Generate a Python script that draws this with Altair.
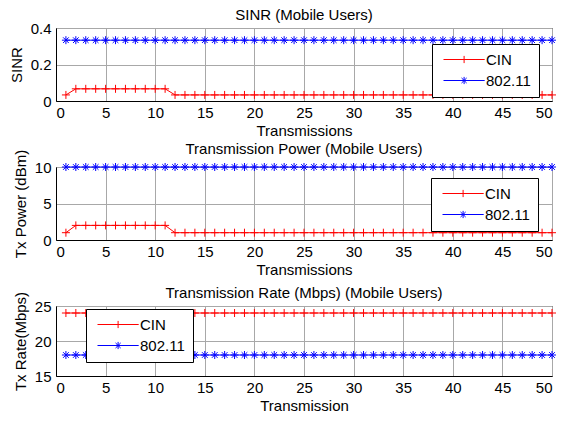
import altair as alt
import pandas as pd

FONT = "Liberation Sans"
FS = 15

transmissions = list(range(1, 51))
series_names = ["CIN", "802.11"]
series_colors = ["#ff0000", "#0000ff"]

sinr_cin = [0.0333, 0.0667, 0.0667, 0.0667, 0.0667, 0.0667, 0.0667, 0.0667, 0.0667, 0.0667,
            0.0667, 0.0333, 0.0333, 0.0333, 0.0333, 0.0333, 0.0333, 0.0333, 0.0333, 0.0333,
            0.0333, 0.0333, 0.0333, 0.0333, 0.0333, 0.0333, 0.0333, 0.0333, 0.0333, 0.0333,
            0.0333, 0.0333, 0.0333, 0.0333, 0.0333, 0.0333, 0.0333, 0.0333, 0.0333, 0.0333,
            0.0333, 0.0333, 0.0333, 0.0333, 0.0333, 0.0333, 0.0333, 0.0333, 0.0333, 0.0333]
sinr_80211 = [0.3333, 0.3333, 0.3333, 0.3333, 0.3333, 0.3333, 0.3333, 0.3333, 0.3333, 0.3333,
              0.3333, 0.3333, 0.3333, 0.3333, 0.3333, 0.3333, 0.3333, 0.3333, 0.3333, 0.3333,
              0.3333, 0.3333, 0.3333, 0.3333, 0.3333, 0.3333, 0.3333, 0.3333, 0.3333, 0.3333,
              0.3333, 0.3333, 0.3333, 0.3333, 0.3333, 0.3333, 0.3333, 0.3333, 0.3333, 0.3333,
              0.3333, 0.3333, 0.3333, 0.3333, 0.3333, 0.3333, 0.3333, 0.3333, 0.3333, 0.3333]

power_cin = [1, 2, 2, 2, 2, 2, 2, 2, 2, 2,
             2, 1, 1, 1, 1, 1, 1, 1, 1, 1,
             1, 1, 1, 1, 1, 1, 1, 1, 1, 1,
             1, 1, 1, 1, 1, 1, 1, 1, 1, 1,
             1, 1, 1, 1, 1, 1, 1, 1, 1, 1]
power_80211 = [10, 10, 10, 10, 10, 10, 10, 10, 10, 10,
               10, 10, 10, 10, 10, 10, 10, 10, 10, 10,
               10, 10, 10, 10, 10, 10, 10, 10, 10, 10,
               10, 10, 10, 10, 10, 10, 10, 10, 10, 10,
               10, 10, 10, 10, 10, 10, 10, 10, 10, 10]

rate_cin = [24, 24, 24, 24, 24, 24, 24, 24, 24, 24,
            24, 24, 24, 24, 24, 24, 24, 24, 24, 24,
            24, 24, 24, 24, 24, 24, 24, 24, 24, 24,
            24, 24, 24, 24, 24, 24, 24, 24, 24, 24,
            24, 24, 24, 24, 24, 24, 24, 24, 24, 24]
rate_80211 = [18, 18, 18, 18, 18, 18, 18, 18, 18, 18,
              18, 18, 18, 18, 18, 18, 18, 18, 18, 18,
              18, 18, 18, 18, 18, 18, 18, 18, 18, 18,
              18, 18, 18, 18, 18, 18, 18, 18, 18, 18,
              18, 18, 18, 18, 18, 18, 18, 18, 18, 18]

x_ticks = [0, 5, 10, 15, 20, 25, 30, 35, 40, 45, 50]

PLUS = "M-1,0H1M0,-1V1"
STAR = "M-1,0H1M0,-1V1M-0.71,-0.71L0.71,0.71M-0.71,0.71L0.71,-0.71"
LEG_PLUS = "M-1,0H9.3M4.15,-0.9V0.9"
LEG_STAR = "M-1,0H9.3M4.15,-0.9V0.9M3.51,-0.64L4.79,0.64M3.51,0.64L4.79,-0.64"

legend_stroke_expr = "datum.value === '%s' ? '%s' : '%s'" % (series_names[0], series_colors[0], series_colors[1])


def make_df(cin, other):
    rows = []
    for xv, v in zip(transmissions, cin):
        rows.append({"x": xv, "v": v, "series": "CIN"})
    for xv, v in zip(transmissions, other):
        rows.append({"x": xv, "v": v, "series": "802.11"})
    return pd.DataFrame(rows)


def panel(df, title, ytitle, ydomain, yticks, xtitle, lx, ly, h, toff):
    base = alt.Chart(df).encode(
        x=alt.X("x:Q", scale=alt.Scale(domain=[0, 50], nice=False, zero=False),
                axis=alt.Axis(title=xtitle, values=x_ticks, format="~r")),
        y=alt.Y("v:Q", scale=alt.Scale(domain=ydomain, nice=False, zero=False),
                axis=alt.Axis(title=ytitle, values=yticks, format="~r")),
    )
    layers = []
    for s, col, shp in [("CIN", series_colors[0], PLUS), ("802.11", series_colors[1], STAR)]:
        sub = base.transform_filter(alt.datum.series == s)
        layers.append(sub.mark_line(color=col, strokeWidth=1))
        layers.append(sub.mark_point(shape=shp, color=col, filled=False, size=64,
                                     strokeWidth=1, opacity=1))
    leg = alt.Legend(title=None, orient="none", legendX=lx, legendY=ly,
                     direction="vertical", strokeColor="black", fillColor="white",
                     padding=8, labelFont=FONT, labelFontSize=FS, labelColor="black",
                     symbolSize=64, symbolStrokeWidth=1, labelOffset=31, rowPadding=5,
                     symbolOpacity=1, symbolFillColor="transparent",
                     symbolStrokeColor={"expr": legend_stroke_expr})
    legend_layer = base.transform_filter("false").mark_point(filled=False, size=64, strokeWidth=1).encode(
        shape=alt.Shape("series:N", scale=alt.Scale(domain=series_names, range=[LEG_PLUS, LEG_STAR]), legend=leg),
    )
    layers.append(legend_layer)
    return alt.layer(*layers).properties(
        width=496, height=h,
        title=alt.TitleParams(title, font=FONT, fontSize=FS, fontWeight="normal", color="black",
                              offset=toff, frame="group"),
    )


p1 = panel(make_df(sinr_cin, sinr_80211), "SINR (Mobile Users)", "SINR", [0, 0.4], [0, 0.2, 0.4],
           "Transmissions", 376, 16, 73, -2)
p2 = panel(make_df(power_cin, power_80211), "Transmission Power (Mobile Users)", "Tx Power (dBm)",
           [0, 10], [0, 5, 10], "Transmissions", 375, 11, 73, -8)
p3 = panel(make_df(rate_cin, rate_80211), "Transmission Rate (Mbps) (Mobile Users)", "Tx Rate(Mbps)",
           [15, 25], [15, 20, 25], "Transmission", 30, 3, 70, -10)

chart = alt.vconcat(p1, p2, p3, spacing=66, bounds="flush").resolve_scale(
    shape="independent"
).resolve_legend(
    shape="independent"
).properties(
    padding={"left": 0, "top": -1, "right": 0, "bottom": 0},
    background="white",
).configure_view(
    stroke="black", strokeWidth=1
).configure_axis(
    labelFont=FONT, labelFontSize=FS, labelColor="black",
    titleFont=FONT, titleFontSize=FS, titleFontWeight="normal", titleColor="black",
    domainColor="black", domainWidth=1, ticks=False, labelPadding=5,
    gridColor="#a8a8a8", gridWidth=1, gridOpacity=1,
).configure_axisX(
    titlePadding=3, labelPadding=4
).configure_axisY(
    titlePadding=6
)

chart.save("out.html", embed_options={"renderer": "svg", "actions": False})
